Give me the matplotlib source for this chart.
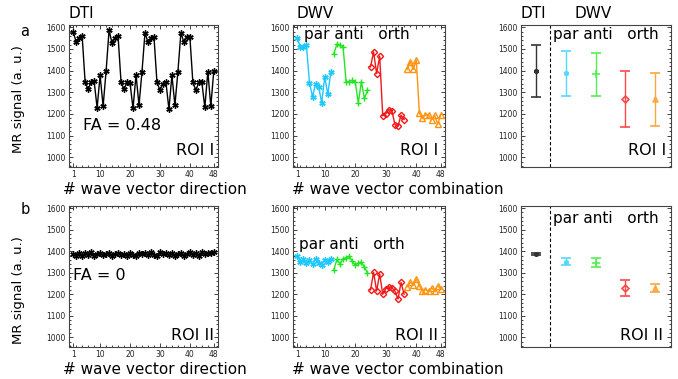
import matplotlib
matplotlib.use("Agg")
import matplotlib.pyplot as plt
from matplotlib.ticker import MultipleLocator

# ---- data ----
n = list(range(1, 49))

dti_roi1 = [1578, 1532, 1552, 1558, 1345, 1315, 1345, 1350, 1228, 1378, 1235, 1398,
            1586, 1525, 1552, 1558, 1345, 1315, 1345, 1342, 1225, 1380, 1240, 1395,
            1575, 1530, 1550, 1555, 1345, 1310, 1340, 1345, 1222, 1378, 1240, 1395,
            1575, 1530, 1555, 1555, 1345, 1310, 1345, 1345, 1230, 1395, 1235, 1400]

dti_roi2 = [1388, 1380, 1392, 1378, 1390, 1384, 1396, 1380, 1388, 1392, 1382, 1386,
            1390, 1380, 1386, 1392, 1384, 1388, 1380, 1390, 1384, 1378, 1392, 1386,
            1390, 1382, 1396, 1384, 1380, 1398, 1386, 1392, 1382, 1390, 1380, 1386,
            1392, 1378, 1388, 1398, 1384, 1390, 1380, 1394, 1388, 1392, 1390, 1394]

par_roi1 = [1548, 1509, 1509, 1517, 1343, 1279, 1340, 1325, 1251, 1371, 1291, 1394]
anti_roi1 = [1478, 1522, 1517, 1510, 1348, 1348, 1355, 1345, 1251, 1348, 1271, 1309]
orth1_roi1 = [1417, 1486, 1386, 1466, 1191, 1200, 1220, 1215, 1150, 1145, 1194, 1174]
orth2_roi1 = [1405, 1440, 1405, 1448, 1205, 1180, 1195, 1195, 1172, 1195, 1152, 1195]

par_roi2 = [1378, 1350, 1362, 1345, 1358, 1340, 1365, 1345, 1338, 1360, 1348, 1365]
anti_roi2 = [1315, 1362, 1340, 1365, 1370, 1376, 1355, 1335, 1345, 1350, 1325, 1300]
orth1_roi2 = [1220, 1302, 1215, 1295, 1200, 1226, 1235, 1230, 1215, 1178, 1255, 1200]
orth2_roi2 = [1235, 1255, 1245, 1270, 1240, 1215, 1220, 1215, 1230, 1215, 1240, 1225]

# summary panels: DTI, par, anti, orth(red), orth(orange)
sum_pos = [1, 2, 3, 4, 5]
sum_roi1 = [1400, 1388, 1382, 1268, 1268]
err_roi1_lo = [1278, 1283, 1283, 1139, 1144]
err_roi1_hi = [1518, 1490, 1480, 1398, 1390]
sum_roi2 = [1386, 1352, 1346, 1229, 1230]
err_roi2_lo = [1381, 1338, 1325, 1190, 1212]
err_roi2_hi = [1391, 1367, 1368, 1268, 1249]

xticks = [1, 10, 20, 30, 40, 48]
yticks = [1000, 1100, 1200, 1300, 1400, 1500, 1600]

c_par = "#1ec8ff"
c_anti = "#22e622"
c_orth1 = "#f01818"
c_orth2 = "#ff9410"
c_sum = ["#333333", "#55d8ff", "#55ee55", "#ff4848", "#ffa640"]

ast = (6, 2, 0)
mk = [ast, ast, "+", "D", "^"]

W, H = 678, 379
fig = plt.figure(figsize=(W / 100, H / 100), dpi=100)
fig.patch.set_facecolor("white")


def box(x0, y0, x1, y1):
    return [x0 / W, 1 - y1 / H, (x1 - x0) / W, (y1 - y0) / H]


def txt(x, y, s, size=11, ha="left", va="center", **kw):
    fig.text(x / W, 1 - y / H, s, fontsize=size, ha=ha, va=va, **kw)


def style(ax):
    ax.set_ylim(955, 1610)
    ax.set_yticks(yticks)
    ax.yaxis.set_minor_locator(MultipleLocator(20))
    ax.tick_params(which="both", direction="in", top=True, right=True,
                   labelsize=5.5, width=0.6, colors="#222222", pad=2.5)
    ax.tick_params(which="major", length=3)
    ax.tick_params(which="minor", length=1.5)
    for s in ax.spines.values():
        s.set_linewidth(0.8)
        s.set_color("#444444")


def series_ax(ax):
    style(ax)
    ax.set_xlim(-0.4, 49.4)
    ax.set_xticks(xticks)
    ax.xaxis.set_minor_locator(MultipleLocator(2))


def dwv(ax, par, anti, o1, o2):
    ax.plot(n[0:12], par, color=c_par, lw=1, marker=ast, ms=4.5, mew=1)
    ax.plot(n[12:24], anti, color=c_anti, lw=1, marker="+", ms=5, mew=1)
    ax.plot(n[24:36], o1, color=c_orth1, lw=1, marker="D", ms=3.2, mew=1, mfc="none")
    ax.plot(n[36:48], o2, color=c_orth2, lw=1, marker="^", ms=4, mew=1, mfc="none")


def summary(ax, vals, lo, hi):
    style(ax)
    ax.set_xlim(0.48, 5.55)
    ax.set_xticks([])
    ax.tick_params(axis="x", which="both", bottom=False, top=False)
    for i in range(5):
        ax.errorbar(sum_pos[i], vals[i],
                    yerr=[[vals[i] - lo[i]], [hi[i] - vals[i]]],
                    color=c_sum[i], lw=1, capsize=3.6, capthick=1,
                    marker=mk[i], ms=3.5 if i != 2 else 6, mfc="none", mew=1.2)
    ax.axvline(1.47, color="black", lw=0.8, ls=(0, (3, 2)))


# ---- top row (ROI I) ----
ax1 = fig.add_axes(box(69, 25, 218, 167))
series_ax(ax1)
ax1.plot(n, dti_roi1, color="black", lw=1, marker=ast, ms=4.5, mew=1)

ax2 = fig.add_axes(box(293, 25, 445, 167))
series_ax(ax2)
dwv(ax2, par_roi1, anti_roi1, orth1_roi1, orth2_roi1)

ax3 = fig.add_axes(box(521, 25, 671, 167))
summary(ax3, sum_roi1, err_roi1_lo, err_roi1_hi)

# ---- bottom row (ROI II) ----
ax4 = fig.add_axes(box(69, 206, 218, 347))
series_ax(ax4)
ax4.plot(n, dti_roi2, color="black", lw=1, marker=ast, ms=4.5, mew=1)

ax5 = fig.add_axes(box(293, 206, 445, 347))
series_ax(ax5)
dwv(ax5, par_roi2, anti_roi2, orth1_roi2, orth2_roi2)

ax6 = fig.add_axes(box(521, 206, 671, 347))
summary(ax6, sum_roi2, err_roi2_lo, err_roi2_hi)

# ---- labels ----
txt(68, 13, "DTI")
txt(296, 14, "DWV")
txt(520, 14, "DTI")
txt(575, 14, "DWV")
txt(25, 31, "a", ha="center", size=10.5)
txt(25, 209, "b", ha="center", size=10.5)

txt(19, 99, "MR signal (a. u.)", ha="center", size=9.5, rotation=90)
txt(19, 290, "MR signal (a. u.)", ha="center", size=9.5, rotation=90)

txt(63, 189, "# wave vector direction")
txt(63, 370, "# wave vector direction")
txt(292, 189, "# wave vector combination")
txt(292, 370, "# wave vector combination")

txt(83, 125, "FA = 0.48", size=11.5)
txt(73, 276, "FA = 0", size=11.5)

txt(214, 151, "ROI I", ha="right", size=11.5)
txt(214, 336, "ROI II", ha="right", size=11.5)
txt(438, 151, "ROI I", ha="right", size=11.5)
txt(438, 336, "ROI II", ha="right", size=11.5)
txt(666, 151, "ROI I", ha="right", size=11.5)
txt(663, 336, "ROI II", ha="right", size=11.5)

txt(304, 34, "par anti   orth")
txt(299, 244, "par anti   orth")
txt(553, 34, "par anti   orth")
txt(553, 218, "par anti   orth")

fig.savefig("out.png", dpi=100)
